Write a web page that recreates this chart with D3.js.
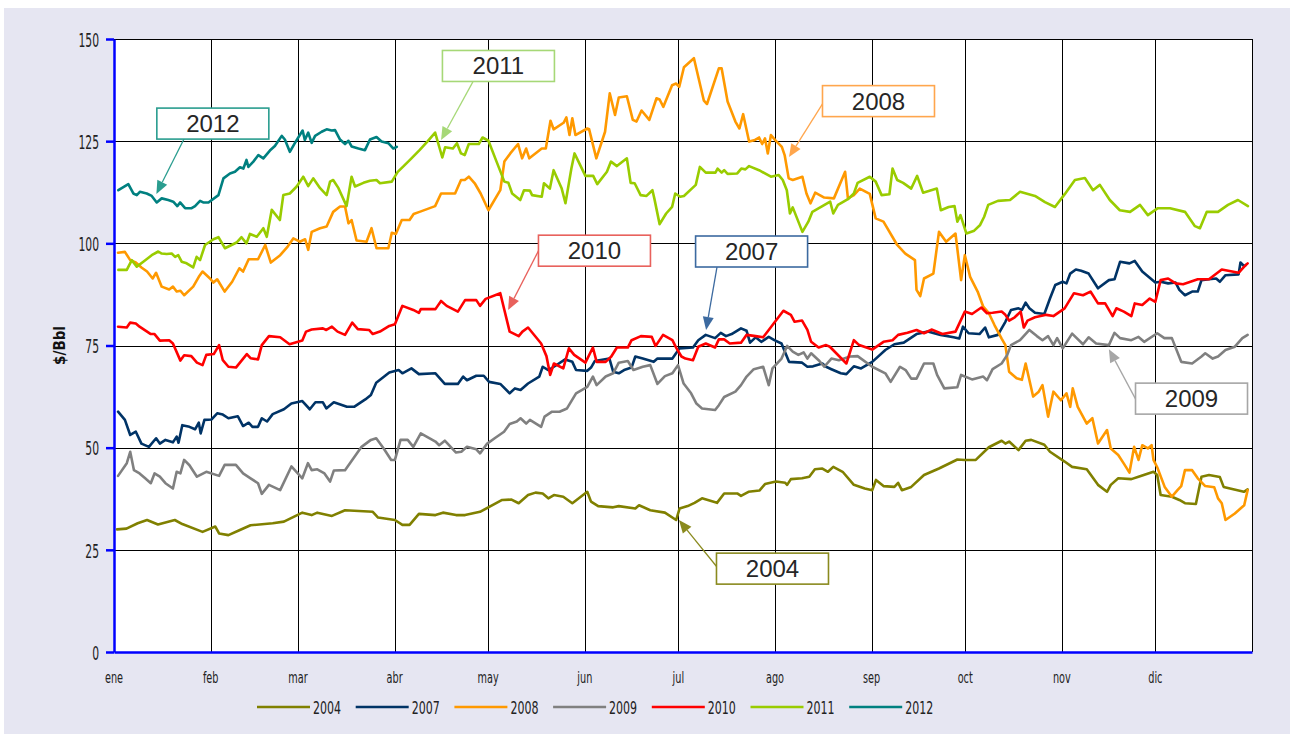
<!DOCTYPE html>
<html>
<head>
<meta charset="utf-8">
<script src="https://cdn.jsdelivr.net/npm/d3@7"></script>
<style>
  html, body { margin: 0; padding: 0; background: #ffffff; }
  svg { display: block; }
</style>
</head>
<body>
<svg id="chart" width="1290" height="734"></svg>
<script>
// ---- axis categories and ticks ----
const monthStarts = [0, 31, 59, 90, 120, 151, 181, 212, 243, 273, 304, 334];
const monthLabels = ["ene", "feb", "mar", "abr", "may", "jun", "jul", "ago", "sep", "oct", "nov", "dic"];
const yTicks = [0, 25, 50, 75, 100, 125, 150];
const seriesNames = ["2004", "2007", "2008", "2009", "2010", "2011", "2012"];

// ---- daily crude price, [day of year, $/Bbl] ----
const oil2004 = [[1,30.0],[4,30.2],[7.6,31.5],[10.6,32.3],[14.1,31.2],[19.5,32.3],[21.9,31.3],[28.4,29.4],[32.5,30.7],[33.7,29.0],[36.7,28.6],[40.2,29.8],[43.8,31.0],[50.9,31.5],[54.5,31.9],[60.4,34.1],[63.4,33.5],[65.2,34.1],[69.9,33.3],[74.1,34.7],[83,34.3],[84.7,32.9],[90.1,32.3],[92.5,31.1],[94.8,31.1],[97.8,33.8],[103.1,33.5],[105.5,34.1],[109.7,33.5],[112.6,33.5],[117.4,34.3],[124.5,37.2],[127.5,37.3],[129.8,36.4],[132.8,38.4],[135.2,39.0],[137.5,38.8],[139.3,37.6],[141.1,38.4],[144.1,38.0],[147,36.4],[151.8,39.2],[153,36.8],[155.3,35.7],[160.1,35.4],[161.9,35.7],[167.2,35.1],[168.4,35.9],[172,34.7],[176.7,34.1],[180.3,32.3],[181.4,35.1],[184,35.7],[186.2,36.5],[188.6,37.6],[193.4,36.5],[195.7,38.8],[199.9,38.8],[201.1,38.2],[203.5,39.2],[207,39.5],[208.8,41.1],[212.3,41.7],[215.3,41.4],[215.9,40.9],[217.1,42.3],[220.7,42.5],[223,42.9],[224.8,44.7],[227.2,44.9],[229,44.1],[230.7,45.3],[233.7,44.1],[237.3,40.9],[240.8,40.0],[243.2,39.6],[244.4,42.1],[246.8,40.6],[250.3,40.4],[251.5,41.4],[252.7,39.6],[255.7,40.4],[259.8,43.3],[264.6,44.9],[270.5,47.1],[272.9,47.0],[276.4,47.0],[280.6,50.1],[284.7,51.7],[285.9,51.0],[287.1,51.5],[290.1,49.4],[292.4,51.7],[294.2,51.9],[298.4,50.7],[300.2,49.0],[304.9,46.6],[307.3,45.3],[312,44.7],[315.6,40.9],[318.5,39.2],[319.7,40.9],[322.1,42.5],[326.3,42.3],[328.6,42.9],[333.4,44.1],[334.6,43.3],[335.7,38.4],[339.3,38.0],[341.7,37.2],[343.5,36.4],[347,36.2],[348.8,42.9],[351.2,43.3],[354.7,42.8],[355.9,40.4],[362.4,39.2],[363.6,39.8]];

const oil2007 = [[1.3,58.8],[3.5,56.8],[5.2,53.1],[7,53.9],[8.8,51.0],[11.2,50.2],[13.5,52.3],[14.7,51.0],[16.5,51.9],[18.9,51.3],[20.1,52.7],[20.7,51.2],[21.9,55.5],[24.2,55.1],[26,54.5],[27.2,56.1],[27.8,53.5],[29,56.8],[31.3,56.9],[33.1,58.4],[34.9,58.1],[36.7,57.2],[39.7,57.7],[41.4,55.3],[43.2,56.1],[44.4,55.1],[46.2,55.1],[47.4,57.2],[49.1,56.4],[50.9,58.2],[54.5,59.4],[56.9,60.8],[60.4,61.4],[62.8,59.4],[64.6,61.1],[67,61.1],[68.1,59.6],[70.5,61.1],[74.7,60.0],[77,60.0],[80.6,61.8],[82.4,62.9],[84.1,65.9],[88.3,68.4],[91.3,69.0],[92.5,68.2],[95.4,69.4],[97.8,68.0],[103.1,68.2],[106.1,65.6],[110.3,65.6],[112,67.4],[113.2,66.5],[116.2,67.6],[118.6,67.6],[120.3,66.1],[123.9,65.6],[126.9,63.3],[128.6,64.5],[130.4,64.1],[132.8,65.7],[136.4,67.4],[137.5,69.8],[139.3,69.0],[141.1,69.8],[144.7,71.6],[147,71.0],[148.2,69.0],[151.8,68.8],[153,69.6],[154.2,71.2],[158.9,71.8],[160.1,68.6],[161.9,68.2],[163.6,69.0],[166,69.6],[167.2,72.3],[169.6,71.8],[173.1,71.0],[174.3,71.8],[179.1,71.8],[181.4,74.3],[185.7,74.5],[187.4,76.3],[189.8,77.6],[192.8,76.8],[194.6,78.1],[196.3,77.3],[198.1,77.8],[201.1,79.2],[202.9,78.6],[204,75.7],[205.8,77.0],[207.6,75.9],[210,77.1],[211.8,76.3],[214.1,75.5],[216.5,71.0],[220.7,70.8],[222.4,69.8],[224.2,69.9],[227.2,70.6],[228.4,69.8],[230.1,69.2],[233.1,68.2],[234.9,68.0],[237.3,69.9],[239.6,69.4],[243.2,71.0],[247.4,73.9],[250.3,75.3],[253.3,75.7],[257.4,77.8],[261,78.4],[265.1,77.6],[269.3,77.0],[271.1,76.7],[272.3,79.6],[274.1,78.0],[277.6,77.8],[279.4,79.4],[280.6,77.0],[283.5,77.6],[285.9,80.8],[287.7,83.7],[290.1,84.1],[291.2,83.7],[292.4,85.5],[293.6,84.1],[295.4,83.0],[298.4,82.7],[300.2,86.5],[301.9,89.8],[304.3,90.6],[305.5,90.2],[306.7,92.6],[308.5,93.6],[310.2,93.3],[312.6,92.6],[315.6,89.0],[319.1,91.0],[320.9,91.2],[322.7,95.5],[325.7,95.1],[327.4,95.7],[329.8,93.1],[334,90.4],[335.7,90.6],[338.1,90.2],[340.5,90.4],[341.7,88.6],[343.5,87.3],[345.8,88.2],[347.6,88.2],[348.8,91.0],[351.2,91.2],[353.5,91.4],[354.7,90.6],[356.5,92.2],[360.7,92.4],[361.3,95.3],[362.5,94.4],[363,94.7]];

const oil2008 = [[1.3,97.7],[3.5,97.9],[5.2,95.9],[7,95.3],[8.8,94.1],[10.6,93.1],[12.4,91.4],[13.5,92.8],[15.3,89.4],[17.7,88.7],[18.9,89.4],[20.1,88.2],[21.3,88.4],[22.5,87.3],[25.4,89.4],[27.2,91.8],[28.4,93.1],[30.8,91.4],[31.9,90.4],[33.1,91.2],[35.5,88.2],[37.9,90.6],[40.2,93.9],[41.4,93.1],[43.2,96.1],[46.2,96.1],[48.5,99.6],[50.3,95.3],[53.3,97.1],[55.7,99.2],[57.5,101.2],[59.6,100.4],[61.3,101.0],[62.3,98.4],[63.4,102.8],[66.1,103.7],[68.2,104.1],[70.3,107.7],[72.5,109.0],[74.1,109.0],[75.2,104.9],[76.2,105.7],[77.8,100.7],[81,100.4],[82.6,103.7],[84.2,98.8],[88,98.8],[89.1,102.6],[90.4,102.3],[92.3,105.7],[94.8,105.7],[96.1,107.2],[98,107.7],[103,109.1],[104.9,112.2],[109.4,112.2],[111.3,115.5],[112.5,115.5],[113.8,116.3],[115.7,114.7],[117.6,112.2],[120.1,108.1],[123.9,113.0],[125.2,120.0],[127.1,122.0],[129.6,124.3],[130.9,120.8],[132.2,123.2],[133.2,120.8],[137.2,123.2],[138.5,123.2],[140,130.0],[141,127.9],[144.2,129.5],[145.1,130.8],[146.1,126.5],[147,130.6],[148,126.5],[151.8,128.1],[152.4,127.9],[154.7,120.8],[157.5,127.3],[159,136.7],[160.7,131.4],[161.9,135.7],[164.5,136.0],[166.4,130.2],[167.6,129.8],[169.2,132.5],[171.7,130.2],[174,135.5],[175,135.2],[176.2,133.4],[179,138.7],[180.3,139.1],[181.3,138.3],[182.8,143.1],[186,145.3],[189.2,134.9],[190.2,134.1],[194,142.8],[194.9,142.8],[196.8,134.7],[199.3,129.8],[200.6,128.1],[201.8,131.6],[203.7,124.9],[205.6,125.3],[206.9,125.9],[207.9,124.3],[208.8,125.7],[209.7,122.0],[210.7,126.5],[212,125.3],[214.2,123.6],[215.1,121.6],[216.4,115.9],[217.7,115.5],[220.8,116.3],[222.1,112.2],[223.4,109.8],[224.9,112.4],[227.8,111.2],[230.9,111.0],[234.5,117.5],[235.4,111.0],[237.3,111.8],[239.2,113.4],[242.4,112.1],[244.3,106.1],[246.8,105.3],[251.2,99.6],[253.8,97.5],[256.9,95.9],[257.4,88.6],[258.6,87.1],[259.8,91.4],[262.8,92.6],[264.6,102.8],[266.9,100.4],[269.9,102.4],[271.7,91.0],[272.9,97.1],[274.6,91.8],[277,88.2],[278.8,84.5],[280.6,82.9],[282.4,80.0],[284.7,76.7],[285.9,75.1],[287.1,68.6],[289.5,67.0],[291.2,66.6],[292.4,70.6],[294.8,62.5],[296.6,63.7],[297.8,65.3],[299.6,57.6],[301.3,63.7],[303.7,61.6],[305.5,63.3],[306.7,60.0],[307.5,64.5],[309.1,60.0],[312,55.9],[313.8,57.2],[315.6,51.0],[318.5,54.3],[319.7,49.8],[322.1,48.2],[323.9,46.1],[325.7,43.9],[327.2,50.2],[328.6,47.0],[329.8,50.6],[331.6,49.8],[332.8,50.6],[333.4,47.0],[334.6,45.2],[337,40.4],[339.3,38.0],[341.1,39.6],[342.3,40.6],[343.5,44.5],[345.8,44.5],[347.6,42.5],[350,40.6],[352.9,40.3],[354.1,37.6],[355.3,36.4],[356.5,32.3],[359.5,33.9],[361.3,35.1],[362.5,35.9],[363.6,39.6]];

const oil2009 = [[1.3,43.1],[4.1,46.2],[5.2,49.0],[6.4,44.5],[8.2,43.7],[10,42.5],[11.8,41.3],[13,43.7],[14.7,42.9],[16.5,41.3],[18.9,40.0],[20.1,44.1],[21.3,43.7],[22.5,47.0],[24.2,45.7],[26.6,42.9],[29.6,44.1],[33.7,43.1],[35.5,45.8],[39.1,45.8],[41.4,43.7],[43.8,42.5],[46.2,41.3],[47.4,38.7],[49.7,40.9],[53.3,39.6],[56.9,45.4],[60.4,42.5],[62.2,46.2],[63.4,44.5],[65.2,44.7],[67.5,43.7],[69.3,41.7],[70.5,44.4],[74.1,44.5],[79.4,50.2],[82.4,51.9],[84.1,52.3],[86.5,49.8],[88.9,47.0],[90.1,47.0],[91.9,51.9],[94.2,51.9],[96,50.2],[98.4,53.5],[103.1,51.5],[104.3,50.6],[106.1,51.7],[109.7,48.8],[111.4,49.0],[113.2,50.2],[116.2,49.6],[117.4,48.6],[119.7,51.0],[122.1,52.3],[125.1,53.9],[126.9,55.8],[129.2,56.4],[130.4,57.2],[132.2,55.9],[133.4,56.8],[137,55.1],[138.1,57.6],[140.5,58.8],[142.9,58.8],[145.3,59.6],[148.2,63.3],[151.8,64.9],[153.6,67.4],[154.8,65.3],[157.7,67.4],[160.1,68.2],[161.9,70.8],[164.8,71.2],[166.6,69.0],[169.6,69.8],[172,70.2],[174.3,65.6],[176.7,67.5],[179.1,68.2],[180.9,70.2],[182.7,65.7],[185.1,63.3],[186.8,60.8],[188.6,59.6],[192.8,59.2],[194,60.4],[195.7,62.4],[199.3,63.7],[201.1,65.3],[202.9,67.4],[205.2,69.2],[208.2,69.8],[210,65.3],[211.2,69.4],[214.1,71.8],[215.9,74.9],[217.7,73.5],[219.5,72.7],[221.2,73.3],[222.4,71.8],[223.6,73.1],[226,71.4],[227.8,69.8],[230.1,71.8],[232.5,71.4],[236.1,72.3],[238.5,72.4],[243.2,69.8],[247.4,68.2],[249.1,66.1],[252.1,69.8],[253.9,69.0],[255.7,66.9],[257.4,66.9],[259.8,70.6],[262.8,70.6],[264,67.8],[266.3,64.5],[270.5,64.8],[271.7,67.8],[275.2,66.7],[278.8,67.4],[280,66.5],[281.8,69.2],[284.7,70.6],[286.5,72.7],[287.7,75.1],[290.6,76.3],[293.6,78.8],[296,77.3],[297.8,76.3],[299.6,77.3],[301.3,75.1],[302.5,76.8],[304.3,74.3],[307.3,77.9],[310.8,75.3],[312.6,77.0],[315,75.5],[319.1,75.1],[320.9,78.1],[322.7,76.8],[326.3,76.3],[328.6,77.1],[330.4,75.9],[334.6,78.0],[336.9,76.8],[339.3,76.8],[342.3,71.0],[345.8,70.6],[348.8,72.3],[350,73.1],[352.4,71.8],[354.1,72.3],[356.5,73.9],[359.5,74.7],[361.9,76.8],[363.6,77.6]];

const oil2010 = [[1.3,79.6],[4.1,79.4],[5.2,80.6],[7,80.4],[8.2,79.6],[11.8,77.8],[13,77.8],[14.7,76.2],[17.7,76.3],[18.9,75.5],[21.3,71.3],[22.5,72.6],[24.8,72.4],[26.6,70.8],[28.4,70.2],[29.6,72.7],[32,72.9],[33.7,75.1],[34.9,71.4],[36.7,69.8],[39.1,69.6],[42.6,72.9],[43.8,71.9],[46.2,71.6],[47.4,75.1],[49.7,77.3],[53.3,77.0],[56.3,75.3],[60.4,76.2],[61.6,78.4],[63.4,78.9],[67,79.2],[68.1,78.8],[69.9,79.6],[71.7,78.4],[74.1,77.6],[76.4,80.6],[78.2,79.0],[81.8,78.8],[83,77.8],[85.3,78.4],[88.3,79.8],[90.1,80.2],[92.5,84.7],[96,83.7],[97.8,83.0],[98.4,83.9],[103.1,83.9],[104.9,85.9],[106.7,84.7],[110.3,83.3],[112.6,86.1],[116.2,86.1],[117.4,84.7],[119.2,86.4],[123.9,87.8],[126.9,78.4],[129.8,77.3],[131,78.4],[132.8,79.4],[137,75.5],[138.7,72.4],[139.9,67.8],[141.1,70.6],[144.1,69.4],[145.9,74.3],[147.6,72.7],[151.2,70.8],[153.6,74.5],[154.8,71.0],[157.7,71.0],[159.5,72.3],[161.3,74.5],[164.8,74.5],[166,76.3],[169,77.3],[172.5,77.1],[173.7,74.9],[176.1,77.6],[179.1,76.3],[180.3,74.5],[182,72.3],[183.3,71.8],[185.7,71.4],[187.4,74.7],[189.8,75.5],[192.8,74.5],[194,76.5],[195.7,76.5],[197.5,75.5],[201.1,75.7],[202.9,77.6],[205.8,77.3],[208.2,77.0],[210,78.8],[214.7,83.5],[217.1,82.5],[218.3,80.8],[220.7,81.1],[222.4,78.8],[223.6,75.9],[226,74.5],[228.4,75.1],[229.6,74.7],[234.9,70.6],[237.3,76.3],[239,75.1],[243.2,74.0],[246.8,75.9],[249.7,76.3],[251.5,77.6],[254.5,78.1],[257.4,78.8],[259.8,78.0],[262.2,78.9],[265.7,77.8],[269.9,78.4],[272.9,83.3],[275.2,82.7],[278.2,84.3],[280,82.9],[281.8,83.0],[284.7,83.3],[285.9,82.5],[287.1,81.1],[288.9,81.9],[290.8,83.3],[291.8,79.4],[293,81.1],[295.4,81.9],[299,82.5],[301.3,82.2],[304.9,84.1],[307.9,87.8],[310.8,87.3],[313.2,88.2],[315.6,85.3],[317.9,85.3],[320.3,82.2],[321.5,84.1],[323.9,83.3],[326.3,82.2],[327.4,85.3],[329.8,84.9],[332.2,86.5],[334,85.7],[335.7,91.0],[338.1,91.4],[340.5,90.2],[342.9,90.0],[347.6,91.2],[351.2,91.2],[355.3,93.6],[360.7,92.8],[362.5,94.3],[363.6,95.1]];

const oil2011 = [[1.4,93.5],[4.1,93.5],[5.7,95.9],[7.3,94.3],[9.4,95.5],[12.1,97.1],[14.2,98.0],[15.3,97.5],[16.9,97.4],[18.5,97.5],[19.6,96.7],[20.6,97.1],[21.7,95.5],[23.3,95.1],[25.4,94.1],[26.5,96.7],[27.6,95.9],[29.2,99.6],[31.9,101.0],[33.5,101.5],[35.6,98.8],[37.7,99.6],[39.3,100.2],[40.9,101.5],[42.5,100.0],[43.6,102.3],[45.8,101.6],[47.9,103.7],[49,101.6],[50.6,108.2],[53.2,105.7],[54.3,111.8],[56.4,112.2],[58.6,113.9],[60.7,116.3],[62.3,114.0],[63.9,115.9],[66.1,113.5],[68.2,111.8],[69.3,115.1],[70.3,115.5],[72,113.5],[74.6,109.1],[76.2,116.3],[77.3,113.9],[80,114.8],[82.1,115.3],[84.2,115.5],[85.3,114.7],[89.1,115.1],[91,117.5],[92.9,118.9],[95.4,120.8],[98,122.8],[100.5,124.9],[103,127.1],[105.3,121.0],[106.2,123.5],[108.7,123.2],[110,124.5],[111.3,122.0],[112.5,121.6],[113.8,124.3],[117,124.3],[118.2,125.9],[120.1,125.1],[122.7,120.0],[125.2,115.1],[126.5,114.8],[127.7,112.2],[130.3,110.6],[131.5,113.0],[133.4,112.9],[134.1,111.8],[137.2,111.4],[137.9,114.7],[139.8,113.4],[141,117.9],[143.6,113.4],[144.8,109.8],[146.7,118.3],[147.7,122.0],[151.2,116.5],[153.7,116.5],[155,114.5],[158.1,117.5],[159.4,120.0],[161.3,118.9],[164.5,120.8],[165.7,114.8],[167,114.7],[168.9,111.8],[170.8,111.6],[172.7,113.0],[173.3,111.0],[175,104.7],[177.1,107.3],[179,108.9],[180,112.2],[181.6,111.4],[182.8,111.6],[186.6,114.3],[187.9,118.7],[189.8,117.3],[192.9,117.3],[193.6,118.3],[194.9,117.3],[195.7,117.9],[196.8,117.0],[199.9,117.1],[201.2,118.3],[202.5,118.1],[203.7,118.9],[206.9,117.9],[210.7,116.3],[213.2,116.7],[214.5,115.5],[215.8,113.0],[216.8,107.3],[217.7,108.8],[220.8,102.8],[222.7,105.3],[224,107.7],[229.7,110.2],[230.7,107.3],[232.2,109.4],[235.4,110.8],[237.3,112.2],[238.5,114.8],[242.4,116.3],[244.3,115.1],[246.2,111.8],[248.7,112.0],[249.7,118.3],[251.2,115.5],[253.1,114.8],[255.7,113.4],[257.6,116.5],[259.5,112.4],[263.9,113.4],[265.2,108.1],[267.7,108.9],[269.6,109.1],[270.5,105.3],[271.5,106.9],[273.4,102.4],[275.9,103.1],[277.8,104.5],[279.1,106.5],[280.4,109.4],[283.5,110.4],[287.4,110.6],[290.6,112.6],[295.4,111.6],[298.6,110.1],[301.8,108.9],[305,112.1],[308.2,115.5],[311.4,116.0],[314,113.0],[316.2,114.3],[319.4,110.6],[322.6,108.1],[325.9,107.7],[329.1,109.4],[331.6,106.9],[334.8,108.6],[338.7,108.6],[343.5,107.7],[346.7,104.2],[348.3,103.7],[350.5,107.7],[354.1,107.7],[357.3,109.4],[360.5,110.6],[363.7,109.1]];

const oil2012 = [[1.4,113.0],[4.6,114.5],[6.2,112.2],[7.3,111.8],[8.3,112.6],[10.5,112.2],[12.1,111.6],[13.7,110.0],[15.3,111.0],[17.4,110.6],[19,110.2],[20.3,109.1],[21.2,110.0],[22.8,108.6],[24.9,108.6],[26,109.1],[27.6,110.4],[28.6,110.0],[30.3,110.0],[33.5,111.8],[35.1,115.9],[37.2,117.1],[38.8,117.5],[40.4,118.6],[41.5,118.3],[42.5,120.4],[43.1,118.7],[44.7,120.0],[46.3,121.6],[47.9,120.8],[50,122.7],[51.6,123.8],[53.8,126.3],[54.8,125.4],[56.4,122.4],[58,124.5],[59.6,126.5],[60.5,127.6],[61.2,125.3],[62.3,127.1],[63.4,124.6],[64.5,126.3],[66.6,127.3],[68.2,127.9],[69.8,127.6],[70.9,127.7],[72.5,125.4],[74.1,124.3],[75.2,125.1],[76.2,123.7],[78.4,123.2],[80.5,122.8],[82.1,125.4],[84.2,126.0],[85.8,124.9],[88,124.5],[89.6,123.2],[90.7,123.6]];

const seriesData = [oil2004, oil2007, oil2008, oil2009, oil2010, oil2011, oil2012];

// ---- callout labels: text, arrow tip, arrow tail, box centre (day, $/Bbl) ----
const calloutLabels = ["2012", "2011", "2008", "2010", "2007", "2009", "2004"];
const calloutTips   = [[13.6,112.1],[104.9,125.3],[216.5,121.1],[126.4,83.7],[189.9,78.8],[319.1,74.1],[181.2,32.3]];
const calloutTails  = [[23.1,126.5],[115.1,139.5],[227.4,134.3],[136.3,98.4],[193.4,94.2],[327.8,61.7],[193.4,20.8]];
const calloutBoxes  = [[31.7,129.3],[123.3,143.4],[245.2,134.8],[154.1,98.2],[204.5,98.0],[345.6,62.0],[211.2,20.4]];

// ---- styling ----
const lineColors = {"2004":"#808000","2007":"#003366","2008":"#ff9900","2009":"#808080","2010":"#ff0000","2011":"#99cc00","2012":"#008080"};
const calloutColors = {"2012":"#2a9d8f","2011":"#a6d877","2008":"#ffa64d","2010":"#e8615c","2007":"#3c6aa0","2009":"#a6a6a6","2004":"#8a8a1e"};
const condensed = "'DejaVu Sans Condensed', 'DejaVu Sans', sans-serif";

const W = 1290, H = 734;
const plot = {left: 114, right: 1252, top: 39, bottom: 652};

const svg = d3.select("#chart");

// page backdrop
svg.append("rect").attr("x", 0).attr("y", 0).attr("width", W).attr("height", H).attr("fill", "#ffffff");
svg.append("rect").attr("x", 4).attr("y", 8).attr("width", W - 4).attr("height", H - 8).attr("fill", "#e6e6f2");

const x = d3.scaleLinear().domain([0, 365]).range([plot.left, plot.right]);
const y = d3.scaleLinear().domain([0, 150]).range([plot.bottom, plot.top]);

// plot area
svg.append("rect")
  .attr("x", plot.left).attr("y", plot.top)
  .attr("width", plot.right - plot.left).attr("height", plot.bottom - plot.top)
  .attr("fill", "#ffffff");

// grid
const grid = svg.append("g").attr("stroke", "#000").attr("stroke-width", 1).attr("shape-rendering", "crispEdges");
grid.selectAll("line.h").data(yTicks.filter(v => v > 0)).join("line")
  .attr("class", "h")
  .attr("x1", plot.left).attr("x2", plot.right)
  .attr("y1", d => Math.round(y(d)) + 0.5).attr("y2", d => Math.round(y(d)) + 0.5);
grid.selectAll("line.v").data(monthStarts.slice(1).concat([365])).join("line")
  .attr("class", "v")
  .attr("x1", d => Math.round(x(d)) + 0.5).attr("x2", d => Math.round(x(d)) + 0.5)
  .attr("y1", plot.top).attr("y2", plot.bottom);

// series lines
const line = d3.line().x(d => x(d[0])).y(d => y(d[1]));
const lines = svg.append("g").attr("fill", "none").attr("stroke-width", 2.6)
  .attr("stroke-linejoin", "round").attr("stroke-linecap", "round");
seriesNames.forEach((name, i) => {
  lines.append("path").datum(seriesData[i]).attr("d", line).attr("stroke", lineColors[name]);
});

// axes
const axisBlue = "#0000ff";
const yAxis = svg.append("g").attr("transform", `translate(${plot.left},0)`)
  .call(d3.axisLeft(y).tickValues(yTicks).tickSize(8).tickSizeOuter(0).tickFormat(d3.format("d")));
yAxis.select(".domain").attr("stroke", axisBlue).attr("stroke-width", 2.5);
yAxis.selectAll(".tick line").attr("stroke", axisBlue).attr("stroke-width", 2.5);
const yLabelScale = 0.6;
yAxis.selectAll(".tick text")
  .attr("font-family", condensed).attr("font-size", 20).attr("fill", "#222")
  .attr("x", -15 / yLabelScale).attr("dy", "0.36em")
  .attr("transform", `scale(${yLabelScale},1)`);

const xAxis = svg.append("g").attr("transform", `translate(0,${plot.bottom})`)
  .call(d3.axisBottom(x).tickValues(monthStarts).tickSize(0).tickSizeOuter(0).tickFormat(() => ""));
xAxis.select(".domain").attr("stroke", axisBlue).attr("stroke-width", 2.5);

const monthScale = 0.72;
svg.append("g").selectAll("text").data(monthStarts).join("text")
  .attr("transform", d => `translate(${x(d)},${plot.bottom + 31}) scale(${monthScale},1)`)
  .attr("text-anchor", "middle")
  .attr("font-family", condensed).attr("font-size", 15).attr("fill", "#222")
  .text((d, i) => monthLabels[i]);

// y-axis title
svg.append("text")
  .attr("transform", `translate(65,${(plot.top + plot.bottom) / 2}) rotate(-90)`)
  .attr("text-anchor", "middle")
  .attr("font-family", condensed).attr("font-weight", "bold").attr("font-size", 15).attr("fill", "#111")
  .text("$/Bbl");

// callouts
const boxW = 112, boxH = 31;
const callouts = svg.append("g");
calloutLabels.forEach((label, i) => {
  const c = calloutColors[label];
  const tip = [x(calloutTips[i][0]), y(calloutTips[i][1])];
  const tail = [x(calloutTails[i][0]), y(calloutTails[i][1])];
  const ctr = [x(calloutBoxes[i][0]), y(calloutBoxes[i][1])];
  const ang = Math.atan2(tip[1] - tail[1], tip[0] - tail[0]);
  const head = 13, half = 5.5;
  const base = [tip[0] - head * Math.cos(ang), tip[1] - head * Math.sin(ang)];
  callouts.append("line")
    .attr("x1", tail[0]).attr("y1", tail[1]).attr("x2", base[0]).attr("y2", base[1])
    .attr("stroke", c).attr("stroke-width", 1.3);
  callouts.append("path")
    .attr("d", `M${tip[0]},${tip[1]}L${base[0] - half * Math.sin(ang)},${base[1] + half * Math.cos(ang)}L${base[0] + half * Math.sin(ang)},${base[1] - half * Math.cos(ang)}Z`)
    .attr("fill", c);
  callouts.append("rect")
    .attr("x", ctr[0] - boxW / 2).attr("y", ctr[1] - boxH / 2)
    .attr("width", boxW).attr("height", boxH)
    .attr("fill", "#ffffff").attr("stroke", c).attr("stroke-width", 1.6);
  callouts.append("text")
    .attr("x", ctr[0]).attr("y", ctr[1] + 8.5)
    .attr("text-anchor", "middle")
    .attr("font-family", "'Liberation Sans', Arial, sans-serif").attr("font-size", 24).attr("fill", "#262626")
    .text(label);
});

// legend
const legend = svg.append("g").attr("transform", "translate(257,707)");
const legendStep = 98.7, legendScale = 0.68;
seriesNames.forEach((name, i) => {
  const g = legend.append("g").attr("transform", `translate(${i * legendStep},0)`);
  g.append("line").attr("x1", 0).attr("x2", 53).attr("y1", 0).attr("y2", 0)
    .attr("stroke", lineColors[name]).attr("stroke-width", 2.6);
  g.append("text")
    .attr("transform", `translate(56,6.5) scale(${legendScale},1)`)
    .attr("font-family", condensed).attr("font-size", 18).attr("fill", "#222")
    .text(name);
});
</script>
</body>
</html>
